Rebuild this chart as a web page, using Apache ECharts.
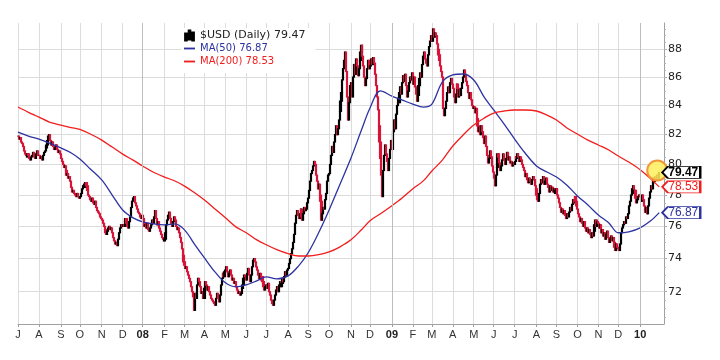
<!DOCTYPE html>
<html><head><meta charset="utf-8">
<script src="https://cdn.jsdelivr.net/npm/echarts@6/dist/echarts.min.js"></script>
<style>html,body{margin:0;padding:0;background:#fff}#c{width:720px;height:360px}</style>
</head><body><div id="c"></div><script>
// ---- daily closes (one line per month) ----
const close2007 = [
  81.9,81.7,81.8,81.5,81.4,81.2,80.9,80.7,80.6,80.5,80.7,80.6,80.4,80.3,80.5,80.6,80.8,80.5,80.4,80.7,80.9,80.6,
  80.6,80.4,80.5,80.3,80.6,80.8,80.9,81.1,81.3,81.6,81.9,82.0,81.6,81.3,81.5,81.2,81.0,81.1,81.3,81.0,80.8,80.9,80.7,
  80.4,80.2,80.0,79.8,79.9,79.6,79.3,79.4,79.1,79.2,78.9,78.5,78.2,78.3,78.1,78.0,77.9,78.1,77.9,77.8,
  77.9,78.1,78.4,78.6,78.7,78.5,78.8,78.6,78.3,78.0,77.9,77.7,77.6,77.8,77.5,77.4,77.6,77.2,77.0,76.9,76.8,76.6,76.5,
  76.4,76.2,76.0,75.8,75.6,75.5,75.7,75.9,76.0,75.8,75.9,75.6,75.3,75.1,74.9,75.0,74.8,75.2,75.6,75.9,76.1,76.0,
  76.1,76.0,76.3,76.5,76.2,76.0,75.9,76.3,76.6,77.2,77.6,77.8,77.9,77.5,77.3,77.1,76.9,76.8,76.6,76.5,76.7
];
const close2008 = [
  76.5,76.2,76.0,76.1,75.9,76.2,75.8,75.7,75.9,76.1,76.4,76.2,76.6,77.0,76.5,76.1,76.3,75.9,75.7,75.5,75.3,75.2,75.1,
  75.2,75.6,76.1,76.4,76.7,76.9,76.5,76.2,76.0,76.3,76.6,76.4,76.0,75.8,75.9,75.6,75.3,75.0,74.6,74.2,73.8,
  73.6,73.4,73.5,73.2,73.0,72.8,72.6,72.3,72.0,71.7,70.9,71.9,71.6,72.4,72.8,72.6,72.3,71.9,72.0,71.7,71.6,
  72.2,72.6,72.4,72.1,72.3,72.0,71.8,71.6,71.5,71.4,71.3,71.2,71.6,71.9,71.6,71.4,71.8,72.4,72.8,73.1,72.9,73.2,
  73.3,73.5,73.2,72.9,73.1,73.3,73.0,72.7,72.8,72.5,72.6,72.3,72.1,71.9,72.0,71.8,71.9,72.2,72.4,72.8,73.0,72.9,
  72.7,73.1,73.4,73.0,72.6,73.0,73.5,73.9,74.0,73.8,73.5,73.3,73.0,72.8,73.1,72.7,72.9,72.6,72.3,72.1,72.3,
  72.4,72.2,72.5,72.0,71.8,71.5,71.3,71.2,71.5,71.8,72.1,72.3,72.0,72.4,72.6,72.3,72.5,72.8,72.6,72.9,73.2,73.0,73.3,
  73.4,73.7,74.0,74.3,74.6,75.0,75.5,76.2,76.7,77.0,76.7,76.5,76.8,77.1,76.6,76.4,76.8,77.2,77.0,77.1,77.5,
  77.8,78.3,78.9,79.4,79.6,79.9,80.2,80.0,79.3,78.9,78.4,78.7,78.0,77.6,76.4,76.8,77.2,77.1,77.7,78.1,78.9,79.3,
  79.4,80.0,80.6,81.2,80.8,81.5,82.0,82.6,82.0,82.4,83.0,83.6,84.3,84.9,85.8,86.6,87.2,87.8,86.4,84.6,83.0,84.2,85.4,
  85.6,84.6,86.0,86.9,86.2,87.3,86.8,86.1,86.6,87.2,87.8,88.3,87.5,86.8,86.0,85.4,85.9,86.6,87.2,86.6,
  86.8,87.3,86.9,87.4,87.0,86.2,85.4,84.6,83.7,82.6,81.5,80.4,79.3,77.9,79.6,80.6,81.3,80.7,80.2,79.6,80.4,81.0,81.6
];
const close2009 = [
  81.0,82.2,83.0,82.4,83.4,84.0,84.5,84.2,84.9,85.3,84.8,85.6,86.1,85.7,86.2,85.4,84.6,85.0,85.6,86.0,85.8,86.3,
  85.5,86.0,85.3,84.8,84.3,84.7,85.4,85.9,86.3,86.0,86.9,87.5,87.8,87.3,87.0,86.8,87.6,88.2,88.6,89.0,
  88.6,89.5,88.9,89.2,89.0,88.4,88.0,87.6,87.2,86.8,86.4,86.0,83.8,83.3,83.8,84.3,84.9,85.3,84.9,85.6,85.9,85.5,
  85.2,84.6,84.2,84.8,85.5,85.2,84.6,85.1,84.7,85.2,85.6,86.0,86.5,86.2,85.7,85.4,84.9,84.5,84.9,84.4,84.0,83.8,
  83.9,83.5,83.8,83.1,82.6,82.2,82.5,82.0,82.6,82.2,81.8,81.4,81.9,81.2,80.6,80.1,80.4,80.9,80.5,79.9,79.5,
  79.1,78.6,79.3,79.8,80.7,80.5,80.1,79.6,79.9,80.3,80.7,80.3,80.0,80.4,80.8,80.3,80.5,80.1,80.2,79.9,80.1,80.0,
  80.2,80.5,80.4,80.7,80.5,80.2,80.5,80.3,80.0,79.8,79.6,79.2,79.4,79.0,78.8,79.1,78.9,78.7,79.0,79.2,79.0,78.6,78.4,
  78.0,77.7,77.6,78.1,78.7,79.0,78.8,79.2,78.7,78.9,79.1,78.7,78.5,78.2,78.6,78.3,78.5,78.2,78.4,78.1,78.3,
  78.4,78.0,77.8,77.5,77.2,76.9,77.1,76.8,77.0,76.7,76.5,76.8,76.6,76.9,77.2,77.0,77.4,77.7,77.5,77.9,77.6,77.3,
  77.1,76.8,76.6,76.3,76.5,76.2,76.0,76.3,75.9,75.7,75.9,75.6,75.8,75.5,75.3,75.6,75.4,75.7,76.1,76.4,76.0,76.3,
  76.2,75.9,76.1,75.6,75.8,75.4,75.6,75.2,75.5,75.7,75.3,75.0,75.2,75.4,75.1,75.3,75.0,74.7,74.5,74.9,74.7,
  74.6,74.5,74.9,75.6,75.9,76.1,76.3,76.2,76.6,76.5,76.8,77.3,77.6,78.0,78.4,78.6,78.1,78.3,77.8,77.5,77.7,77.9,78.0
];
const close2010 = [
  77.9,77.6,78.0,77.7,77.3,76.9,77.2,76.8,77.3,77.8,78.2,78.6,78.4,78.8,79.1,78.9,79.2,79.0,79.3,79.1,79.47
];
// moving averages read at the 1st and 12th trading day of each month, plus the last day
const ma50Samples = [
  82.17,81.90, 81.70,81.43, 81.10,80.76, 80.36,79.70, 78.98,78.00, 77.04,76.54,
  76.29,76.16, 76.09,76.16, 75.78,74.85, 74.04,73.19, 72.53,72.29, 72.41,72.65,
  72.89,72.77, 72.95,73.56, 74.36,75.60, 77.04,78.64, 80.43,82.31, 83.83,85.02,
  84.66,84.38, 84.10,83.89, 84.10,85.65, 86.15,86.22, 85.79,84.59, 83.69,82.72,
  81.70,80.76, 79.90,79.50, 79.17,78.64, 77.94,77.36, 76.72,76.22, 75.60,75.66,
  75.91,76.35, 76.87
];
const ma200Samples = [
  83.90,83.53, 83.20,82.86, 82.65,82.48, 82.35,82.04, 81.63,81.16, 80.69,80.29,
  79.90,79.50, 79.17,78.91, 78.58,78.13, 77.68,77.11, 76.54,75.97, 75.60,75.16,
  74.85,74.55, 74.30,74.16, 74.16,74.24, 74.41,74.71, 75.16,75.79, 76.36,76.80,
  77.31,77.82, 78.41,78.92, 79.57,80.29, 81.23,81.98, 82.65,83.13, 83.48,83.62,
  83.69,83.69, 83.62,83.34, 83.00,82.45, 82.04,81.63, 81.30,80.96, 80.56,80.16,
  79.65,79.05, 78.53
];
const yTickValues = [72,74,76,78,80,82,84,86,88];
const monthLetters = ['J','F','M','A','M','J','J','A','S','O','N','D'];

// ---- calendar (weekdays) ----
const dates = [];
for (let t = Date.UTC(2007,6,2); t <= Date.UTC(2010,1,5); t += 86400000) {
  const d = new Date(t), wd = d.getUTCDay();
  if (wd === 0 || wd === 6) continue;
  dates.push(d.toISOString().slice(0,10));
}
const closes = close2007.concat(close2008, close2009, close2010);
const lastIdx = closes.length - 1;
const monthStarts = [];
dates.forEach((d,i) => { if (i === 0 || d.slice(0,7) !== dates[i-1].slice(0,7)) monthStarts.push(i); });
const dataMonthStarts = monthStarts.filter(i => i <= lastIdx);
const monthSet = new Set(dataMonthStarts);
const yearStarts = dataMonthStarts.filter(i => dates[i].slice(5,7) === '01');
const L = Math.log;

const candle = closes.map((c,i) => {
  const o = i ? closes[i-1] : c;
  return [L(o), L(c), L(Math.min(o,c)), L(Math.max(o,c))];
});
const sampleIdx = [];
dataMonthStarts.forEach(s => { sampleIdx.push(s, s + 11); });
sampleIdx.push(lastIdx);
const ma50 = sampleIdx.map((ix,k) => [ix, L(ma50Samples[k])]);
const ma200 = sampleIdx.map((ix,k) => [ix, L(ma200Samples[k])]);

const lastClose = closes[lastIdx];
const ma50Last = ma50Samples[ma50Samples.length-1];
const ma200Last = ma200Samples[ma200Samples.length-1];
const minorTicks = [];
for (let v = 70.5; v <= 89.5; v += 0.5) minorTicks.push(L(v));

const BLUE = '#2d33a0', RED = '#f21d1d', DOWN = '#d8143a';
const tagPath = 'path://M0,6L6,0L40,0L40,12L6,12Z';
const yMin = L(70.1), yMax = L(89.94);
function tag(value, color, bold) {
  return {
    coord: [lastIdx, L(value)], symbol: tagPath, symbolSize: [38, 12], symbolKeepAspect: false,
    symbolOffset: [22, 0],
    itemStyle: { color: '#fff', borderColor: color, borderWidth: 1.4 },
    label: { show: true, position: 'inside', formatter: value.toFixed(2), color: color,
      fontSize: 12, fontFamily: 'Liberation Sans, Arial', fontWeight: bold ? 'bold' : 'normal', offset: [2, 0] }
  };
}
const legendValues = { '$USD (Daily)': lastClose.toFixed(2), 'MA(50)': ma50Last.toFixed(2), 'MA(200)': ma200Last.toFixed(2) };

const chart = echarts.init(document.getElementById('c'), null, { renderer: 'canvas' });
chart.setOption({
  animation: false,
  backgroundColor: '#fff',
  grid: { left: 18, right: 56, top: 23, bottom: 36, containLabel: false, outerBoundsMode: 'none' },
  legend: {
    orient: 'vertical', left: 181, top: 28, padding: [1, 10, 5, 3], itemGap: 0,
    itemWidth: 11, itemHeight: 10, backgroundColor: '#fff', selectedMode: false, z: 10,
    textStyle: { fontFamily: 'DejaVu Sans', lineHeight: 13 },
    formatter: name => name + ' ' + legendValues[name],
    data: [
      { name: '$USD (Daily)', icon: 'path://M0,3h1.6v7h-1.6z M3.6,0h1.6v9h-1.6z M7.2,2h1.6v8h-1.6z',
        itemStyle: { color: '#222' }, textStyle: { color: '#222', fontSize: 11 } },
      { name: 'MA(50)', icon: 'path://M0,0h12v2h-12z', itemStyle: { color: BLUE }, textStyle: { color: BLUE, fontSize: 10 } },
      { name: 'MA(200)', icon: 'path://M0,0h12v2h-12z', itemStyle: { color: RED }, textStyle: { color: RED, fontSize: 10 } }
    ]
  },
  xAxis: {
    type: 'category', data: dates, boundaryGap: false,
    axisLine: { show: true, lineStyle: { color: '#a0a0a0' } },
    axisTick: { show: true, length: 3, interval: i => monthSet.has(i), lineStyle: { color: '#a0a0a0' } },
    axisLabel: {
      interval: i => monthSet.has(i),
      color: '#333', fontSize: 11, fontFamily: 'Liberation Sans, Arial', margin: 5,
      formatter: (v, idx) => {
        if (idx > lastIdx) return '';
        const m = +v.slice(5,7);
        return m === 1 ? '{y|' + v.slice(2,4) + '}' : monthLetters[m-1];
      },
      rich: { y: { fontWeight: 'bold', fontSize: 11, color: '#222', fontFamily: 'Liberation Sans, Arial' } }
    },
    splitLine: { show: true, interval: i => monthSet.has(i), lineStyle: { color: '#dcdcdc', width: 1 } }
  },
  yAxis: [{
    type: 'value', position: 'right', min: yMin, max: yMax,
    axisLine: { show: true, lineStyle: { color: '#a0a0a0' } },
    axisTick: { show: true, length: 3, customValues: yTickValues.map(L), lineStyle: { color: '#a0a0a0' } },
    axisLabel: { customValues: yTickValues.map(L), formatter: v => String(Math.round(Math.exp(v))),
      color: '#222', fontSize: 11, fontFamily: 'DejaVu Sans', margin: 4 },
    splitLine: { show: true, lineStyle: { color: '#dcdcdc', width: 1 } }
  }, {
    type: 'value', position: 'right', min: yMin, max: yMax,
    axisLine: { show: false }, axisLabel: { show: false }, splitLine: { show: false },
    axisTick: { show: true, length: 2, customValues: minorTicks, lineStyle: { color: '#b0b0b0' } }
  }],
  series: [{
    name: '$USD (Daily)', type: 'candlestick', data: candle, large: false, barWidth: 1.6,
    itemStyle: { color: '#000', color0: DOWN, borderColor: '#000', borderColor0: DOWN, borderWidth: 1.2 },
    markPoint: {
      silent: true, animation: false,
      data: [
        { coord: [lastIdx, L(lastClose)], symbol: 'circle', symbolSize: 20, symbolOffset: [-2, -2],
          itemStyle: { color: 'rgba(255,238,90,0.85)', borderColor: '#f3963a', borderWidth: 2 }, label: { show: false } },
        tag(lastClose, '#000', true)
      ]
    }
  }, {
    name: 'MA(50)', type: 'line', data: ma50, smooth: 0.35, symbol: 'none', z: 3,
    lineStyle: { color: BLUE, width: 1.3 }, itemStyle: { color: BLUE },
    markPoint: { silent: true, data: [tag(ma50Last, BLUE, false)] }
  }, {
    name: 'MA(200)', type: 'line', data: ma200, smooth: 0.35, symbol: 'none', z: 3,
    lineStyle: { color: RED, width: 1.3 }, itemStyle: { color: RED },
    markPoint: { silent: true, data: [tag(ma200Last, RED, false)] },
    markLine: { silent: true, symbol: 'none', label: { show: false },
      lineStyle: { color: '#bdbdbd', type: 'solid', width: 1 },
      data: yearStarts.map(i => ({ xAxis: i })) }
  }]
});
</script></body></html>
